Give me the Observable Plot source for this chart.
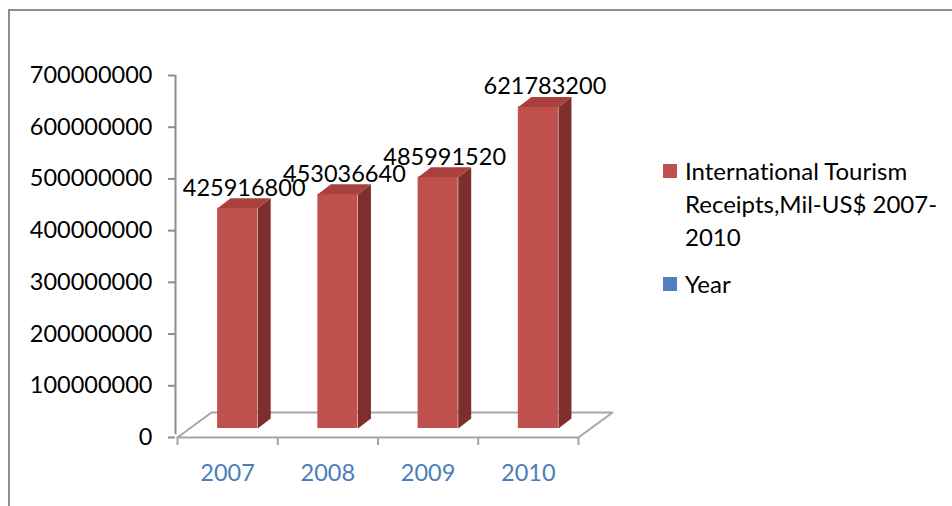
<!DOCTYPE html>
<html>
<head>
<meta charset="utf-8">
<script src="https://cdn.jsdelivr.net/npm/d3@7"></script>
<script src="https://cdn.jsdelivr.net/npm/@observablehq/plot@0.6"></script>
<style>
  html, body { margin: 0; padding: 0; background: #fff; overflow: hidden; }
  #wrap { position: relative; width: 952px; height: 506px; overflow: hidden; font-family: Lato, "Open Sans", sans-serif; font-variant-ligatures: none; }
  #frame { position: absolute; left: 8px; top: 9px; width: 1000px; height: 600px; border: 2px solid #8e8e8e; box-sizing: border-box; }
  #chart { position: absolute; left: 0; top: 0; }
  #legend { position: absolute; left: 663px; top: 154px; font-size: 24px; color: #000; }
  .item { position: relative; padding-left: 22px; line-height: 33px; width: 262px; margin-bottom: 14px; }
  .sw { position: absolute; left: 0; top: 10px; width: 14px; height: 14px; }
  svg text { font-variant-ligatures: none; }
</style>
</head>
<body>
<div id="wrap">
  <div id="frame"></div>
  <div id="chart"></div>
  <div id="legend"></div>
</div>
<script>
// ---- data ----
const years = ["2007", "2008", "2009", "2010"];
const receipts = [425916800, 453036640, 485991520, 621783200];
const yTicks = [0, 100000000, 200000000, 300000000, 400000000, 500000000, 600000000, 700000000];
const seriesNames = ["International Tourism Receipts,Mil-US$ 2007-2010", "Year"];
const seriesColors = ["#C0504D", "#4F81BD"];

// ---- layout (pixels) ----
const W = 952, H = 506;
const mL = 177, mR = 374, mT = 75, mB = 69;
const plotW = W - mL - mR, plotH = H - mT - mB;
const yMax = 700000000;
const n = years.length;
const ux = n / plotW;        // x data units per pixel
const uy = yMax / plotH;     // y data units per pixel

// 3D depth offsets
const barDX = 13 * ux, barDY = 10 * uy;
const floorDX = 34 * ux, floorDY = 25 * uy;
const f0 = 0.4, f1 = 0.8; // front face position inside band

const bars = years.map((yr, i) => ({yr, i, v: receipts[i]}));

const sidePts = [], topPts = [];
bars.forEach(b => {
  const xr = b.i + f1, xl = b.i + f0;
  [[xr, 0], [xr, b.v], [xr + barDX, b.v + barDY], [xr + barDX, barDY]].forEach(([x, y]) => sidePts.push({id: b.yr, x, y}));
  [[xl, b.v], [xr, b.v], [xr + barDX, b.v + barDY], [xl + barDX, b.v + barDY]].forEach(([x, y]) => topPts.push({id: b.yr, x, y}));
});
const floorPts = [[0, 0], [n, 0], [n + floorDX, floorDY], [floorDX, floorDY], [0, 0]].map(([x, y]) => ({x, y}));

const gray = "#a6a6a6";

const chart = Plot.plot({
  width: W, height: H,
  marginLeft: mL, marginRight: mR, marginTop: mT, marginBottom: mB,
  style: {fontFamily: "Lato, 'Open Sans', sans-serif", fontSize: "23px", overflow: "visible", background: "transparent"},
  x: {type: "linear", domain: [0, n]},
  y: {type: "linear", domain: [0, yMax]},
  marks: [
    Plot.line(floorPts, {x: "x", y: "y", stroke: gray, strokeWidth: 2, fill: "none"}),
    Plot.ruleX([0], {y1: 0, y2: yMax, stroke: "#8c8c8c", strokeWidth: 2, dx: -2, insetTop: -3}),
    Plot.axisY({ticks: yTicks, tickSize: 7, tickPadding: 16, tickFormat: d => String(d), stroke: "#8c8c8c", strokeWidth: 2, fill: "#000", fontSize: 23.5, dx: -2, label: null}),
    Plot.axisX({ticks: d3.range(n + 1), tickSize: 8, tickFormat: () => "", stroke: gray, strokeWidth: 2, label: null}),
    Plot.text(bars, {x: d => d.i + 0.5, y: 0, text: "yr", dy: 36, fill: "#4a7ebb", fontSize: 23.5}),
    Plot.rect(bars, {x1: d => d.i + f0, x2: d => d.i + f1, y1: 0, y2: "v", dy: -9, fill: seriesColors[0]}),
    Plot.line(sidePts, {x: "x", y: "y", z: "id", dy: -9, fill: "#7E2F2D", stroke: "none", curve: "linear"}),
    Plot.line(topPts, {x: "x", y: "y", z: "id", dy: -9, fill: "#A8413E", stroke: "none", curve: "linear"}),
    Plot.text(bars, {x: d => d.i + 0.665, y: "v", text: d => String(d.v), dy: -29, fill: "#000", fontSize: 23.5})
  ]
});
document.getElementById("chart").appendChild(chart);

// legend
const legend = document.getElementById("legend");
seriesNames.forEach((name, k) => {
  const item = document.createElement("div");
  item.className = "item";
  const sw = document.createElement("span");
  sw.className = "sw";
  sw.style.background = seriesColors[k];
  item.appendChild(sw);
  item.appendChild(document.createTextNode(name));
  legend.appendChild(item);
});
</script>
</body>
</html>
